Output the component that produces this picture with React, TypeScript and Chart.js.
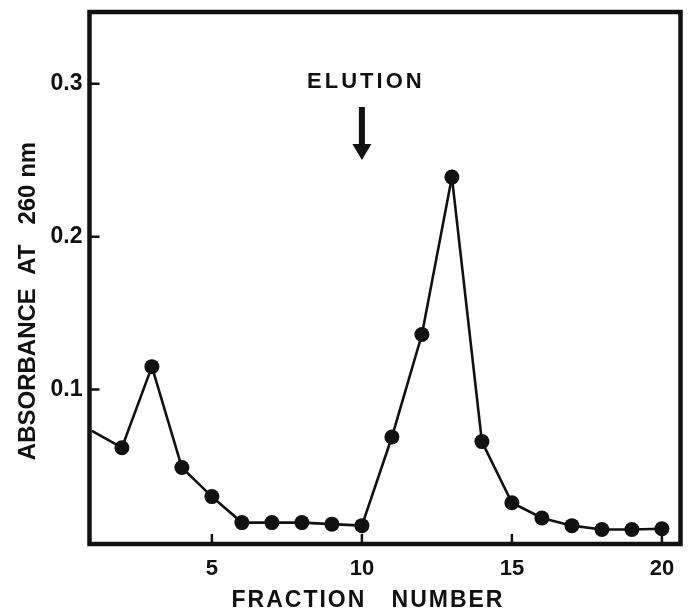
import React, { useEffect, useRef } from "react";
import { Chart, registerables } from "chart.js";

Chart.register(...registerables);

const fractions = [1, 2, 3, 4, 5, 6, 7, 8, 9, 10, 11, 12, 13, 14, 15, 16, 17, 18, 19, 20];
const absorbance = [0.073, 0.062, 0.115, 0.049, 0.030, 0.013, 0.013, 0.013, 0.012, 0.011, 0.069, 0.136, 0.239, 0.066, 0.026, 0.016, 0.011, 0.0085, 0.0085, 0.009];
const markerShown = [false, true, true, true, true, true, true, true, true, true, true, true, true, true, true, true, true, true, true, true];
const xTickValues = [5, 10, 15, 20];
const yTickValues = [0.1, 0.2, 0.3];
const yTickLabels = ["0.1", "0.2", "0.3"];
const elutionFraction = 10;
const xTitle = "FRACTION   NUMBER";
const yTitle = "ABSORBANCE  AT   260 nm";
const annotationText = "ELUTION";

const INK = "#111";

const decorPlugin = {
  id: "decor",
  afterDraw(chart: any) {
    const { ctx, chartArea: a, scales } = chart;
    const xs = scales.x;
    const ys = scales.y;
    ctx.save();
    // frame
    ctx.strokeStyle = INK;
    ctx.lineWidth = 4.5;
    ctx.lineJoin = "miter";
    ctx.strokeRect(a.left, a.top, a.right - a.left, a.bottom - a.top);
    // inward ticks
    ctx.lineWidth = 2.5;
    ctx.beginPath();
    xTickValues.forEach((v) => {
      const px = xs.getPixelForValue(v);
      ctx.moveTo(px, a.bottom);
      ctx.lineTo(px, a.bottom - 10);
    });
    yTickValues.forEach((v) => {
      const py = ys.getPixelForValue(v);
      ctx.moveTo(a.left, py);
      ctx.lineTo(a.left + 10, py);
    });
    ctx.stroke();

    // elution annotation
    const ex = xs.getPixelForValue(elutionFraction);
    ctx.fillStyle = INK;
    ctx.font = "bold 22px 'Liberation Sans', Arial, sans-serif";
    (ctx as any).letterSpacing = "3px";
    ctx.textAlign = "center";
    ctx.textBaseline = "alphabetic";
    ctx.fillText(annotationText, ex + 4, 88);
    (ctx as any).letterSpacing = "0px";
    // arrow
    ctx.fillRect(ex - 3, 107, 6, 40);
    ctx.beginPath();
    ctx.moveTo(ex - 9.5, 144);
    ctx.lineTo(ex + 9.5, 144);
    ctx.lineTo(ex, 160);
    ctx.closePath();
    ctx.fill();

    // x title
    ctx.font = "bold 23px 'Liberation Sans', Arial, sans-serif";
    (ctx as any).letterSpacing = "2px";
    ctx.textAlign = "center";
    ctx.fillText(xTitle, 368, 607);
    (ctx as any).letterSpacing = "0px";

    // y title
    ctx.save();
    ctx.translate(35, 301);
    ctx.rotate(-Math.PI / 2);
    ctx.font = "bold 24px 'Liberation Sans', Arial, sans-serif";
    ctx.textAlign = "center";
    ctx.textBaseline = "alphabetic";
    ctx.fillText(yTitle, 0, 0);
    ctx.restore();

    ctx.restore();
  },
};

export default function App() {
  const ref = useRef<HTMLCanvasElement | null>(null);

  useEffect(() => {
    document.body.style.margin = "0";
    document.body.style.background = "#fff";
    const canvas = ref.current;
    if (!canvas) return;
    const points = fractions.map((f, i) => ({ x: f, y: absorbance[i] }));
    const chart = new Chart(canvas, {
      type: "line",
      data: {
        datasets: [
          {
            data: points,
            borderColor: INK,
            borderWidth: 2.6,
            tension: 0,
            pointRadius: markerShown.map((m) => (m ? 7.5 : 0)),
            pointBackgroundColor: INK,
            pointBorderColor: INK,
            pointBorderWidth: 0,
            pointHoverRadius: 7.5,
          } as any,
        ],
      },
      options: {
        animation: false,
        responsive: false,
        maintainAspectRatio: false,
        events: [],
        layout: { padding: { left: 0, top: 12, right: 9.5, bottom: 0 } },
        plugins: { legend: { display: false }, tooltip: { enabled: false } },
        scales: {
          x: {
            type: "linear",
            min: 0.92,
            max: 20.62,
            grid: { display: false, drawTicks: false },
            border: { display: false },
            ticks: {
              color: INK,
              padding: 12,
              font: { family: "'Liberation Sans', Arial, sans-serif", size: 22, weight: "bold" },
              callback: (v: any) => String(v),
            },
            afterBuildTicks: (scale: any) => {
              scale.ticks = xTickValues.map((v) => ({ value: v }));
            },
            afterFit: (scale: any) => {
              scale.height = 66;
              scale.paddingLeft = 0;
              scale.paddingRight = 0;
            },
          },
          y: {
            type: "linear",
            min: -0.001,
            max: 0.347,
            grid: { display: false, drawTicks: false },
            border: { display: false },
            ticks: {
              color: INK,
              padding: 7,
              font: { family: "'Liberation Sans', Arial, sans-serif", size: 23, weight: "bold" },
              callback: (v: any) => {
                const i = yTickValues.indexOf(Number(v));
                return i >= 0 ? yTickLabels[i] : "";
              },
            },
            afterBuildTicks: (scale: any) => {
              scale.ticks = yTickValues.map((v) => ({ value: v }));
            },
            afterFit: (scale: any) => {
              scale.width = 89.5;
              scale.paddingTop = 0;
              scale.paddingBottom = 0;
            },
          },
        },
      },
      plugins: [decorPlugin],
    });
    return () => chart.destroy();
  }, []);

  return (
    <div style={{ position: "absolute", left: 0, top: 0, width: 690, height: 610, background: "#fff" }}>
      <canvas ref={ref} width={690} height={610} style={{ display: "block" }} />
    </div>
  );
}
